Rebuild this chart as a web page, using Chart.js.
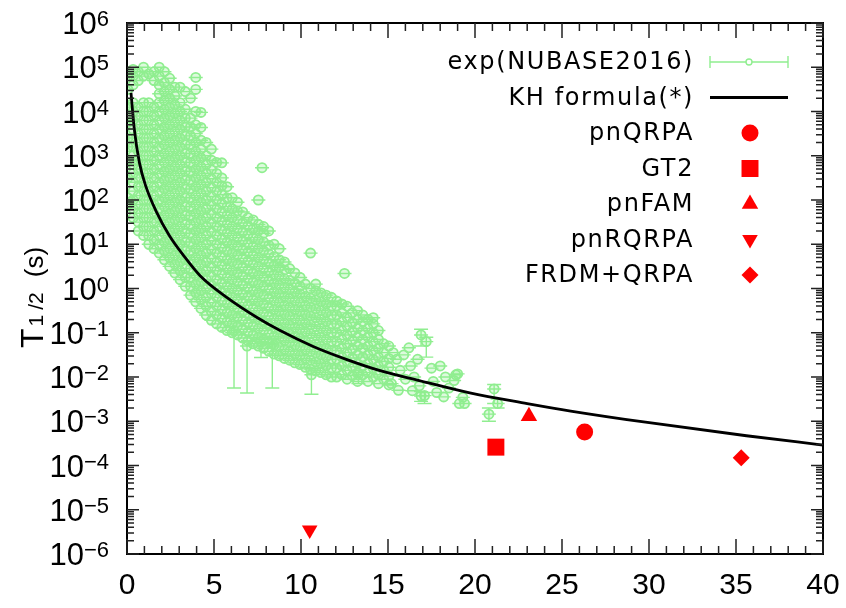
<!DOCTYPE html>
<html><head><meta charset="utf-8">
<script src="https://cdn.jsdelivr.net/npm/chart.js@4.4.0/dist/chart.umd.min.js"></script>
<style>html,body{margin:0;padding:0;background:#fff;}#wrap{width:846px;height:608px;}</style>
</head><body><div id="wrap"><canvas id="c" width="846" height="608"></canvas></div>
<script>
// ---------- data ----------
const xTickValues = [0, 5, 10, 15, 20, 25, 30, 35, 40];
const yTickExponents = [-6, -5, -4, -3, -2, -1, 0, 1, 2, 3, 4, 5, 6];
const seriesLabels = ['exp(NUBASE2016)', 'KH formula(*)', 'pnQRPA', 'GT2', 'pnFAM', 'pnRQRPA', 'FRDM+QRPA'];
const yAxisTitle = ['T', '1/2', '(s)'];

// experimental half-lives: [x, list of log10(T1/2)] read column by column from the cloud
const expColumns = [
 [0.05,[1.9,2.05,2.5,2.9,3.2,3.4,3.75,4.1,4.5,4.8]],
 [0.35,[1.6,1.8,2.0,2.2,2.4,2.6,2.8,3.0,3.2,3.4,3.6,3.8,4.0,4.2,4.6,4.8,4.95]],
 [0.65,[1.3,1.5,1.7,1.9,2.1,2.3,2.5,2.7,2.9,3.1,3.3,3.5,3.7,3.9,4.1,4.7,4.9]],
 [0.95,[1.2,1.4,1.6,1.8,2.0,2.2,2.4,2.6,2.8,3.0,3.2,3.4,3.6,3.8,4.0,4.2,4.8,5.0]],
 [1.25,[1.0,1.2,1.4,1.6,1.8,2.0,2.2,2.4,2.6,2.8,3.0,3.2,3.4,3.6,3.8,4.0,4.2,4.85]],
 [1.55,[0.9,1.1,1.3,1.5,1.7,1.9,2.1,2.3,2.5,2.7,2.9,3.1,3.3,3.5,3.7,3.9,4.1,4.7,4.9]],
 [1.85,[0.8,1.0,1.2,1.4,1.6,1.8,2.0,2.2,2.4,2.6,2.8,3.0,3.2,3.4,3.6,3.8,4.0,4.2,4.4,4.6,4.8,5.0]],
 [2.15,[0.65,0.85,1.05,1.25,1.45,1.65,1.85,2.05,2.25,2.45,2.65,2.85,3.05,3.25,3.45,3.65,3.85,4.05,4.25,4.45,4.65,4.9]],
 [2.45,[0.5,0.7,0.9,1.1,1.3,1.5,1.7,1.9,2.1,2.3,2.5,2.7,2.9,3.1,3.3,3.5,3.7,3.9,4.1,4.3,4.5,4.75]],
 [2.75,[0.35,0.55,0.75,0.95,1.15,1.35,1.55,1.75,1.95,2.15,2.35,2.55,2.75,2.95,3.15,3.35,3.55,3.75,3.95,4.15,4.35,4.55]],
 [3.05,[0.2,0.4,0.6,0.8,1.0,1.2,1.4,1.6,1.8,2.0,2.2,2.4,2.6,2.8,3.0,3.2,3.4,3.6,3.8,4.0,4.2,4.55]],
 [3.35,[0.05,0.25,0.45,0.65,0.85,1.05,1.25,1.45,1.65,1.85,2.05,2.25,2.45,2.65,2.85,3.05,3.25,3.45,3.65,3.85,4.05,4.45]],
 [3.65,[-0.15,0.05,0.25,0.45,0.65,0.85,1.05,1.25,1.45,1.65,1.85,2.05,2.25,2.45,2.65,2.85,3.05,3.25,3.45,3.65,3.85,4.3]],
 [3.95,[-0.3,-0.1,0.1,0.3,0.5,0.7,0.9,1.1,1.3,1.5,1.7,1.9,2.1,2.3,2.5,2.7,2.9,3.1,3.3,3.5,3.7,4.0,4.5,4.77]],
 [4.25,[-0.45,-0.25,-0.05,0.15,0.35,0.55,0.75,0.95,1.15,1.35,1.55,1.75,1.95,2.15,2.35,2.55,2.75,2.95,3.15,3.35,3.64,3.98]],
 [4.55,[-0.6,-0.4,-0.2,0.0,0.2,0.4,0.6,0.8,1.0,1.2,1.4,1.6,1.8,2.0,2.2,2.4,2.6,2.8,3.0,3.3]],
 [4.85,[-0.72,-0.52,-0.32,-0.12,0.08,0.28,0.48,0.68,0.88,1.08,1.28,1.48,1.68,1.88,2.08,2.28,2.48,2.68,2.9,3.15]],
 [5.15,[-0.8,-0.6,-0.4,-0.2,0.0,0.2,0.4,0.6,0.8,1.0,1.2,1.4,1.6,1.8,2.0,2.2,2.4,2.6,2.85]],
 [5.45,[-0.88,-0.68,-0.48,-0.28,-0.08,0.12,0.32,0.52,0.72,0.92,1.12,1.32,1.52,1.72,1.92,2.12,2.32,2.5,2.84]],
 [5.75,[-0.95,-0.75,-0.55,-0.35,-0.15,0.05,0.25,0.45,0.65,0.85,1.05,1.25,1.45,1.65,1.85,2.05,2.3]],
 [6.05,[-1.0,-0.8,-0.6,-0.4,-0.2,0.0,0.2,0.4,0.6,0.8,1.0,1.2,1.4,1.6,1.8,2.05]],
 [6.35,[-1.05,-0.85,-0.65,-0.45,-0.25,-0.05,0.15,0.35,0.55,0.75,0.95,1.15,1.35,1.55,1.75,1.95]],
 [6.65,[-1.12,-0.92,-0.72,-0.52,-0.32,-0.12,0.08,0.28,0.48,0.68,0.88,1.08,1.28,1.48,1.73]],
 [6.95,[-1.18,-0.98,-0.78,-0.58,-0.38,-0.18,0.02,0.22,0.42,0.62,0.82,1.02,1.22,1.42,1.6]],
 [7.25,[-1.25,-1.05,-0.85,-0.65,-0.45,-0.25,-0.05,0.15,0.35,0.55,0.75,0.95,1.15,1.35,1.55]],
 [7.55,[-1.3,-1.1,-0.9,-0.7,-0.5,-0.3,-0.1,0.1,0.3,0.5,0.7,0.9,1.1,1.3,1.45,2.0]],
 [7.76,[2.73]],
 [7.85,[-1.35,-1.15,-0.95,-0.75,-0.55,-0.35,-0.15,0.05,0.25,0.45,0.65,0.85,1.05,1.25,1.4]],
 [8.15,[-1.42,-1.22,-1.02,-0.82,-0.62,-0.42,-0.22,-0.02,0.18,0.38,0.58,0.78,0.98,1.3]],
 [8.45,[-1.48,-1.28,-1.08,-0.88,-0.68,-0.48,-0.28,-0.08,0.12,0.32,0.52,0.72,1.0]],
 [8.75,[-1.52,-1.32,-1.12,-0.92,-0.72,-0.52,-0.32,-0.12,0.08,0.28,0.48,0.65,0.9]],
 [9.05,[-1.58,-1.38,-1.18,-0.98,-0.78,-0.58,-0.38,-0.18,0.02,0.22,0.42,0.6]],
 [9.35,[-1.62,-1.42,-1.22,-1.02,-0.82,-0.62,-0.42,-0.22,-0.02,0.18,0.45]],
 [9.65,[-1.68,-1.48,-1.28,-1.08,-0.88,-0.68,-0.48,-0.28,-0.08,0.12,0.35]],
 [9.95,[-1.72,-1.52,-1.32,-1.12,-0.92,-0.72,-0.52,-0.32,-0.12,0.05,0.25]],
 [10.25,[-1.78,-1.58,-1.38,-1.18,-0.98,-0.78,-0.58,-0.38,-0.18,0.1]],
 [10.55,[-1.82,-1.62,-1.42,-1.22,-1.02,-0.82,-0.62,-0.42,-0.22,0.0,0.8]],
 [10.85,[-1.86,-1.66,-1.46,-1.26,-1.06,-0.86,-0.66,-0.46,-0.26,-0.05,0.1]],
 [11.15,[-1.9,-1.7,-1.5,-1.3,-1.1,-0.9,-0.7,-0.5,-0.3,-0.1]],
 [11.45,[-1.95,-1.75,-1.55,-1.35,-1.15,-0.95,-0.75,-0.55,-0.35,-0.15]],
 [11.75,[-2.0,-1.8,-1.6,-1.4,-1.2,-1.0,-0.8,-0.6,-0.4,-0.2]],
 [12.05,[-2.0,-1.8,-1.6,-1.4,-1.2,-1.0,-0.8,-0.6,-0.4,-0.28]],
 [12.35,[-1.95,-1.75,-1.55,-1.35,-1.15,-0.95,-0.75,-0.55,-0.35]],
 [12.5,[0.34]],
 [12.65,[-2.05,-1.85,-1.65,-1.45,-1.25,-1.05,-0.85,-0.65,-0.4]],
 [12.95,[-1.97,-1.77,-1.57,-1.37,-1.17,-0.97,-0.77,-0.55]],
 [13.25,[-2.1,-1.9,-1.7,-1.5,-1.3,-1.1,-0.9,-0.7,-0.5]],
 [13.55,[-1.95,-1.75,-1.55,-1.35,-1.15,-0.95,-0.75,-0.6]],
 [13.85,[-2.1,-1.9,-1.7,-1.5,-1.3,-1.1,-0.9,-0.7]],
 [14.15,[-2.0,-1.8,-1.6,-1.4,-1.2,-1.0,-0.8,-0.66]],
 [14.45,[-2.15,-1.95,-1.75,-1.55,-1.35,-1.15,-0.95]],
 [14.75,[-2.05,-1.85,-1.65,-1.45,-1.25]],
 [15.05,[-2.18,-1.98,-1.78,-1.58,-1.3]]
];
// isolated experimental points beyond the dense cloud: [x, log10(T1/2)]
const expSparse = [
 [15.3,-1.45],[15.5,-1.6],[15.7,-1.85],[15.9,-1.5],[16.2,-1.34],[16.3,-1.75],[16.5,-2.0],[16.7,-1.6],
 [15.2,-2.15],[15.6,-2.3],[16.0,-2.05],[16.4,-2.31],[17.5,-1.8],[17.6,-2.1],[18.0,-1.75],[18.3,-2.0],
 [18.5,-2.25],[18.8,-2.08],[18.9,-1.95],[19.0,-1.93],[19.3,-2.46],[19.1,-2.6],[19.4,-2.6],[17.8,-2.35],
 [18.2,-2.45],[16.8,-2.2]
];
// points with visible error bars: [x, log10(T), log10(low), log10(high)]
const expErrorBars = [
 [6.15,-0.95,-2.25,-0.85],[6.9,-1.3,-2.36,-1.2],[7.7,-1.2,-1.56,-1.1],[8.35,-1.25,-2.25,-1.15],
 [10.6,-1.95,-2.39,-1.8],[13.3,-1.95,-2.15,-1.85],[16.9,-1.05,-1.3,-0.92],[17.2,-1.2,-1.55,-1.1],
 [16.9,-2.43,-2.55,-2.33],[17.1,-2.42,-2.6,-2.35],[21.1,-2.27,-2.6,-2.17],[20.8,-2.84,-3.0,-2.7],
 [21.3,-2.6,-2.7,-2.5]
];
// KH formula curve
const khX = [0.23, 0.42, 0.71, 1.09, 1.67, 2.43, 3.3, 4.2, 5.73, 7.45, 8.8, 10.7, 12.6, 14.5, 16.8, 19.7, 23.0, 25.5, 29.8, 35.6, 40];
const khT = [2.63e4, 3.98e3, 708, 200, 56.2, 15.8, 5.25, 1.95, 0.63, 0.224, 0.112, 0.049, 0.0251, 0.0141, 0.0083, 0.00437, 0.00251, 0.0017, 9.5e-4, 4.7e-4, 2.9e-4];
// theoretical predictions
const pnQRPA   = [{x: 26.3, y: 5.7e-4}];
const GT2      = [{x: 21.2, y: 2.6e-4}];
const pnFAM    = [{x: 23.1, y: 1.3e-3}];
const pnRQRPA  = [{x: 10.5, y: 3.5e-6}];
const FRDMQRPA = [{x: 35.3, y: 1.5e-4}];

// ---------- build ----------
const GREEN = '#90EE90', RED = '#FF0000';
const expData = [];
expColumns.forEach(([cx, vals]) => vals.forEach(v => expData.push({x: cx, y: Math.pow(10, v)})));
expSparse.forEach(([px, v]) => expData.push({x: px, y: Math.pow(10, v)}));
expErrorBars.forEach(([px, v]) => expData.push({x: px, y: Math.pow(10, v)}));
const khData = khX.map((xv, i) => ({x: xv, y: khT[i]}));

const FONT_TICK = '"Liberation Sans", Arial, sans-serif';
const FONT_LEG = '"DejaVu Sans", sans-serif';

const decorPlugin = {
  id: 'decor',
  beforeDatasetsDraw(chart) {
    const {ctx, chartArea: a, scales: {x, y}} = chart;
    ctx.save();
    ctx.beginPath(); ctx.rect(a.left, a.top, a.right - a.left, a.bottom - a.top); ctx.clip();
    ctx.strokeStyle = GREEN; ctx.lineWidth = 1.4;
    ctx.beginPath();
    for (const p of expData) {
      const px = x.getPixelForValue(p.x), py = y.getPixelForValue(p.y);
      ctx.moveTo(px - 7, py); ctx.lineTo(px + 7, py);
    }
    for (const [bx, , lo, hi] of expErrorBars) {
      const px = x.getPixelForValue(bx);
      const pl = y.getPixelForValue(Math.pow(10, lo)), ph = y.getPixelForValue(Math.pow(10, hi));
      ctx.moveTo(px, pl); ctx.lineTo(px, ph);
      ctx.moveTo(px - 7, pl); ctx.lineTo(px + 7, pl);
      ctx.moveTo(px - 7, ph); ctx.lineTo(px + 7, ph);
    }
    ctx.stroke();
    ctx.restore();
  },
  afterDraw(chart) {
    const {ctx, chartArea: a, scales: {x, y}} = chart;
    ctx.save();
    // frame
    ctx.strokeStyle = '#000'; ctx.lineWidth = 2;
    ctx.strokeRect(a.left, a.top, a.right - a.left, a.bottom - a.top);
    // ticks
    ctx.lineWidth = 1.5; ctx.strokeStyle = '#222';
    ctx.beginPath();
    for (let v = x.min; v <= x.max; v += 1) {
      const px = x.getPixelForValue(v);
      const len = (v % 5 === 0) ? 15 : 8;
      ctx.moveTo(px, a.bottom); ctx.lineTo(px, a.bottom - len);
      ctx.moveTo(px, a.top); ctx.lineTo(px, a.top + len);
    }
    for (let e = -6; e <= 6; e++) {
      for (let m = 1; m <= 9; m++) {
        if (e === 6 && m > 1) break;
        const py = y.getPixelForValue(m * Math.pow(10, e));
        const len = (m === 1) ? 12 : 7;
        ctx.moveTo(a.left, py); ctx.lineTo(a.left + len, py);
        ctx.moveTo(a.right, py); ctx.lineTo(a.right - len, py);
      }
    }
    ctx.stroke();
    // x tick labels
    ctx.fillStyle = '#000';
    ctx.font = '30px ' + FONT_TICK;
    ctx.textAlign = 'center'; ctx.textBaseline = 'alphabetic';
    xTickValues.forEach(v => ctx.fillText(String(v), x.getPixelForValue(v), 594));
    // y tick labels 10^n
    yTickExponents.forEach(e => {
      const py = y.getPixelForValue(Math.pow(10, e));
      const sup = (e < 0 ? '\u2212' : '') + Math.abs(e);
      ctx.font = '22px ' + FONT_TICK;
      const ws = ctx.measureText(sup).width;
      ctx.textAlign = 'right';
      ctx.fillText(sup, 109, py + 3);
      ctx.font = '31px ' + FONT_TICK;
      ctx.fillText('10', 109 - ws, py + 11);
    });
    // y axis title
    ctx.save();
    ctx.translate(43, 348);
    ctx.rotate(-Math.PI / 2);
    ctx.textAlign = 'left'; ctx.textBaseline = 'alphabetic';
    ctx.font = '32px ' + FONT_TICK;
    ctx.fillText(yAxisTitle[0], 0, 0);
    let off = ctx.measureText(yAxisTitle[0]).width + 2;
    ctx.font = '21px ' + FONT_TICK;
    ctx.fillText(yAxisTitle[1][0], off, 0);
    off += ctx.measureText(yAxisTitle[1][0]).width + 5;
    ctx.fillText(yAxisTitle[1].slice(1), off, 0);
    off += ctx.measureText(yAxisTitle[1].slice(1)).width + 15;
    ctx.font = '26px ' + FONT_TICK;
    ctx.fillText(yAxisTitle[2], off, 0);
    ctx.restore();
    // legend
    const rowY0 = 62, dy = 35.5;
    ctx.font = '24px ' + FONT_LEG;
    try { ctx.letterSpacing = '1.6px'; } catch (err) {}
    ctx.textAlign = 'right'; ctx.textBaseline = 'middle';
    chart.data.datasets.forEach((ds, i) => {
      const ry = rowY0 + i * dy;
      ctx.fillStyle = '#000';
      ctx.fillText(ds.label, 694, ry + 1);
      if (i === 0) {
        ctx.strokeStyle = GREEN; ctx.lineWidth = 1.4;
        ctx.beginPath();
        ctx.moveTo(710, ry); ctx.lineTo(788, ry);
        ctx.moveTo(710, ry - 6); ctx.lineTo(710, ry + 6);
        ctx.moveTo(788, ry - 6); ctx.lineTo(788, ry + 6);
        ctx.stroke();
        ctx.fillStyle = '#fff';
        ctx.beginPath(); ctx.arc(749, ry, 3, 0, Math.PI * 2); ctx.fill(); ctx.stroke();
      } else if (i === 1) {
        ctx.strokeStyle = '#000'; ctx.lineWidth = ds.borderWidth;
        ctx.beginPath(); ctx.moveTo(710, ry); ctx.lineTo(788, ry); ctx.stroke();
      } else {
        ctx.fillStyle = RED; ctx.strokeStyle = RED;
        Chart.helpers.drawPoint(ctx, {pointStyle: ds.pointStyle, radius: ds.pointRadius, rotation: ds.rotation || 0, borderWidth: 0}, 750, ry);
      }
    });
    ctx.restore();
  }
};

const redSet = (label, data, style, radius, rotation) => ({
  type: 'scatter', label, data, pointStyle: style, pointRadius: radius, rotation: rotation || 0,
  backgroundColor: RED, borderColor: RED, borderWidth: 0, order: 0
});

new Chart(document.getElementById('c'), {
  type: 'scatter',
  data: {
    datasets: [
      {type: 'scatter', label: seriesLabels[0], data: expData, pointStyle: 'circle', pointRadius: 4.6,
       borderColor: GREEN, backgroundColor: 'rgba(144,238,144,0.3)', borderWidth: 1.8, order: 10},
      {type: 'line', label: seriesLabels[1], data: khData, borderColor: '#000', borderWidth: 2.8,
       pointRadius: 0, cubicInterpolationMode: 'monotone', fill: false, order: 5},
      redSet(seriesLabels[2], pnQRPA, 'circle', 8.5),
      redSet(seriesLabels[3], GT2, 'rect', 12),
      redSet(seriesLabels[4], pnFAM, 'triangle', 9.5),
      redSet(seriesLabels[5], pnRQRPA, 'triangle', 9, 180),
      redSet(seriesLabels[6], FRDMQRPA, 'rectRot', 8.5)
    ]
  },
  options: {
    responsive: false, animation: false, devicePixelRatio: 1,
    layout: {padding: {top: 23, right: 23, left: 0, bottom: 0}},
    plugins: {legend: {display: false}, tooltip: {enabled: false}},
    scales: {
      x: {type: 'linear', min: 0, max: 40, grid: {display: false}, border: {display: false},
          ticks: {display: false, stepSize: 5},
          afterFit(s) { s.height = 54; }},
      y: {type: 'logarithmic', min: 1e-6, max: 1e6, grid: {display: false}, border: {display: false},
          ticks: {display: false},
          afterFit(s) { s.width = 127; }}
    }
  },
  plugins: [decorPlugin]
});
</script></body></html>
